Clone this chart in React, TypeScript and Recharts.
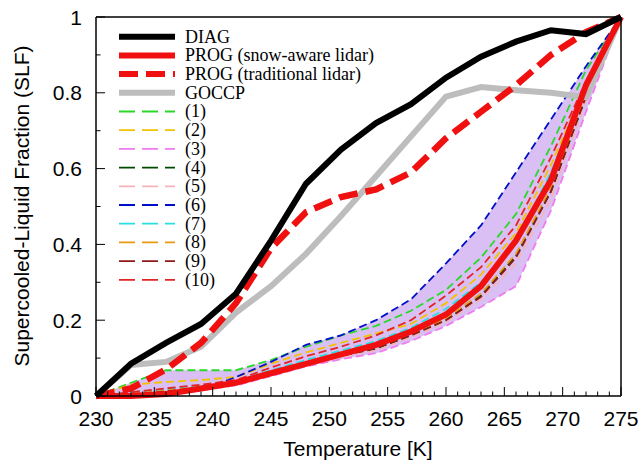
import React from 'react';
import { ComposedChart, Line, Area, XAxis, YAxis } from 'recharts';

// temperature bins [K]
const temps = [230, 233, 236, 239, 242, 245, 248, 251, 254, 257, 260, 263, 266, 269, 272, 275];

const diag = [0, 0.085, 0.14, 0.19, 0.27, 0.41, 0.56, 0.65, 0.72, 0.77, 0.84, 0.895, 0.935, 0.965, 0.955, 1.0];
const progSnow = [0, 0, 0.005, 0.02, 0.035, 0.06, 0.085, 0.11, 0.135, 0.17, 0.215, 0.29, 0.41, 0.57, 0.82, 1.0];
const progTrad = [0, 0.02, 0.07, 0.14, 0.245, 0.39, 0.485, 0.525, 0.545, 0.59, 0.68, 0.75, 0.82, 0.9, 0.96, 1.0];
const goccp = [0, 0.082, 0.09, 0.13, 0.22, 0.29, 0.375, 0.475, 0.58, 0.685, 0.79, 0.815, 0.807, 0.8, 0.788, 1.0];

const ens1 = [0, 0.035, 0.068, 0.068, 0.068, 0.095, 0.13, 0.16, 0.185, 0.225, 0.28, 0.365, 0.48, 0.66, 0.86, 1.0];
const ens2 = [0, 0.03, 0.037, 0.042, 0.05, 0.085, 0.115, 0.14, 0.165, 0.19, 0.245, 0.32, 0.43, 0.61, 0.82, 1.0];
const ens3 = [0, 0, 0.005, 0.015, 0.028, 0.052, 0.078, 0.097, 0.113, 0.145, 0.185, 0.235, 0.29, 0.49, 0.75, 1.0];
const ens4 = [0, 0.005, 0.012, 0.022, 0.033, 0.058, 0.085, 0.105, 0.125, 0.16, 0.2, 0.265, 0.37, 0.54, 0.79, 1.0];
const ens5 = [0, 0.003, 0.01, 0.02, 0.03, 0.055, 0.082, 0.102, 0.12, 0.155, 0.195, 0.255, 0.35, 0.52, 0.78, 1.0];
const ens6 = [0, 0, 0.005, 0.015, 0.05, 0.09, 0.135, 0.16, 0.2, 0.255, 0.35, 0.45, 0.59, 0.73, 0.87, 1.0];
const ens7 = [0, 0.01, 0.018, 0.028, 0.04, 0.068, 0.095, 0.12, 0.145, 0.18, 0.23, 0.3, 0.41, 0.59, 0.81, 1.0];
const ens8 = [0, 0.006, 0.014, 0.024, 0.035, 0.06, 0.088, 0.108, 0.128, 0.163, 0.205, 0.27, 0.375, 0.55, 0.8, 1.0];
const ens9 = [0, 0.004, 0.012, 0.022, 0.034, 0.058, 0.086, 0.106, 0.126, 0.16, 0.2, 0.262, 0.365, 0.54, 0.79, 1.0];
const ens10 = [0, 0.01, 0.02, 0.03, 0.042, 0.075, 0.105, 0.13, 0.16, 0.2, 0.265, 0.34, 0.45, 0.63, 0.83, 1.0];

const yMajor = [0, 0.2, 0.4, 0.6, 0.8, 1];
const yLabels = ['0', '0.2', '0.4', '0.6', '0.8', '1'];

const ensembles = [
  { key: 'e1', name: '(1)', values: ens1, color: '#2ad82a' },
  { key: 'e2', name: '(2)', values: ens2, color: '#f2c200' },
  { key: 'e3', name: '(3)', values: ens3, color: '#f07af0' },
  { key: 'e4', name: '(4)', values: ens4, color: '#004a00' },
  { key: 'e5', name: '(5)', values: ens5, color: '#f5b4bc' },
  { key: 'e6', name: '(6)', values: ens6, color: '#0010c8' },
  { key: 'e7', name: '(7)', values: ens7, color: '#28e0e0' },
  { key: 'e8', name: '(8)', values: ens8, color: '#ea9a12' },
  { key: 'e9', name: '(9)', values: ens9, color: '#8e1a1a' },
  { key: 'e10', name: '(10)', values: ens10, color: '#e32424' },
];

const mains = [
  { key: 'diag', name: 'DIAG', values: diag, color: '#000000', dash: undefined as string | undefined },
  { key: 'snow', name: 'PROG (snow-aware lidar)', values: progSnow, color: '#f01010', dash: undefined },
  { key: 'trad', name: 'PROG (traditional lidar)', values: progTrad, color: '#f01010', dash: '19 8' },
  { key: 'goccp', name: 'GOCCP', values: goccp, color: '#bdbdbd', dash: undefined },
];

const data = temps.map((t, i) => {
  const row: any = { t };
  mains.forEach((m) => (row[m.key] = m.values[i]));
  const vals = ensembles.map((e) => e.values[i]);
  ensembles.forEach((e) => (row[e.key] = e.values[i]));
  row.band = [Math.min(...vals), Math.max(...vals)];
  return row;
});

const xMinor: number[] = [];
for (let t = 230; t <= 275; t++) xMinor.push(t);
const yMinor: number[] = [];
for (let k = 0; k <= 10; k++) yMinor.push(k / 10);

const SANS = '"Liberation Sans", Arial, Helvetica, sans-serif';
const SERIF = '"Liberation Serif", "Times New Roman", serif';

const isMajorX = (v: number) => v % 5 === 0;
const isMajorY = (v: number) => yMajor.some((m) => Math.abs(m - v) < 1e-6);

const XTick = (props: any) => {
  const { x, y, payload, top } = props;
  const v = payload.value;
  const len = isMajorX(v) ? 9 : 4.5;
  return (
    <g>
      <line x1={x} x2={x} y1={y} y2={top ? y + len : y - len} stroke="#000" strokeWidth={1} />
      {!top && isMajorX(v) && (
        <text x={x} y={y + 30} textAnchor="middle" fontFamily={SANS} fontSize={21} fill="#000">
          {v}
        </text>
      )}
    </g>
  );
};

const YTick = (props: any) => {
  const { x, y, payload, right } = props;
  const v = payload.value;
  const major = isMajorY(v);
  const len = major ? 9 : 4.5;
  const idx = yMajor.findIndex((m) => Math.abs(m - v) < 1e-6);
  return (
    <g>
      <line x1={x} x2={right ? x - len : x + len} y1={y} y2={y} stroke="#000" strokeWidth={1} />
      {!right && major && (
        <text x={x - 14} y={y} dy="0.36em" textAnchor="end" fontFamily={SANS} fontSize={21} fill="#000">
          {yLabels[idx]}
        </text>
      )}
    </g>
  );
};

const LegendOverlay = () => {
  const rows = [
    ...mains.map((m) => ({ name: m.name, color: m.color, width: 6, dash: m.dash })),
    ...ensembles.map((e) => ({ name: e.name, color: e.color, width: 1.8, dash: '16 7' })),
  ];
  return (
    <svg width={644} height={465} style={{ position: 'absolute', left: 0, top: 0, pointerEvents: 'none' }}>
      {rows.map((r, i) => {
        const y = 36.7 + i * 18.7;
        return (
          <g key={r.name}>
            <line x1={119} x2={175} y1={y} y2={y} stroke={r.color} strokeWidth={r.width} strokeDasharray={r.dash} />
            <text x={185} y={y} dy="0.33em" fontFamily={SERIF} fontSize={18} fill="#000">
              {r.name}
            </text>
          </g>
        );
      })}
    </svg>
  );
};

export default function App() {
  return (
    <div style={{ position: 'absolute', left: 0, top: 0, width: 644, height: 465, background: '#fff' }}>
      <ComposedChart width={644} height={465} data={data} margin={{ top: 16, right: 22, bottom: 68, left: 95 }}>
        <XAxis
          dataKey="t"
          type="number"
          domain={[230, 275]}
          ticks={xMinor}
          interval={0}
          height={1}
          tickSize={0}
          tickMargin={0}
          tickLine={false}
          axisLine={{ stroke: '#000', strokeWidth: 1.5 }}
          tick={<XTick />}
          label={{
            content: () => (
              <text x={358} y={456} textAnchor="middle" fontFamily={SANS} fontSize={21} fill="#000">
                Temperature [K]
              </text>
            ),
          }}
        />
        <XAxis
          xAxisId="top"
          orientation="top"
          type="number"
          domain={[230, 275]}
          ticks={xMinor}
          interval={0}
          height={1}
          tickSize={0}
          tickMargin={0}
          tickLine={false}
          axisLine={{ stroke: '#000', strokeWidth: 1.5 }}
          tick={<XTick top />}
        />
        <YAxis
          type="number"
          domain={[0, 1]}
          ticks={yMinor}
          interval={0}
          width={1}
          tickSize={0}
          tickMargin={0}
          tickLine={false}
          axisLine={{ stroke: '#000', strokeWidth: 1.5 }}
          tick={<YTick />}
          label={{
            content: () => (
              <text
                x={22}
                y={206}
                transform="rotate(-90 22 206)"
                textAnchor="middle"
                dy="0.35em"
                fontFamily={SANS}
                fontSize={21}
                fill="#000"
              >
                Supercooled-Liquid Fraction (SLF)
              </text>
            ),
          }}
        />
        <YAxis
          yAxisId="right"
          orientation="right"
          type="number"
          domain={[0, 1]}
          ticks={yMinor}
          interval={0}
          width={1}
          tickSize={0}
          tickMargin={0}
          tickLine={false}
          axisLine={{ stroke: '#000', strokeWidth: 1.5 }}
          tick={<YTick right />}
        />
        <Area
          dataKey="band"
          type="linear"
          stroke="none"
          fill="#d9bff3"
          fillOpacity={1}
          dot={false}
          activeDot={false}
          isAnimationActive={false}
        />
        {ensembles.map((e) => (
          <Line
            key={e.key}
            dataKey={e.key}
            type="linear"
            stroke={e.color}
            strokeWidth={1.8}
            strokeDasharray="8 4"
            dot={false}
            activeDot={false}
            isAnimationActive={false}
          />
        ))}
        {[mains[3], mains[2], mains[1], mains[0]].map((m) => (
          <Line
            key={m.key}
            dataKey={m.key}
            type="linear"
            stroke={m.color}
            strokeWidth={m.key === 'trad' ? 6.5 : 6}
            strokeDasharray={m.dash}
            dot={false}
            activeDot={false}
            isAnimationActive={false}
          />
        ))}
      </ComposedChart>
      <LegendOverlay />
    </div>
  );
}
